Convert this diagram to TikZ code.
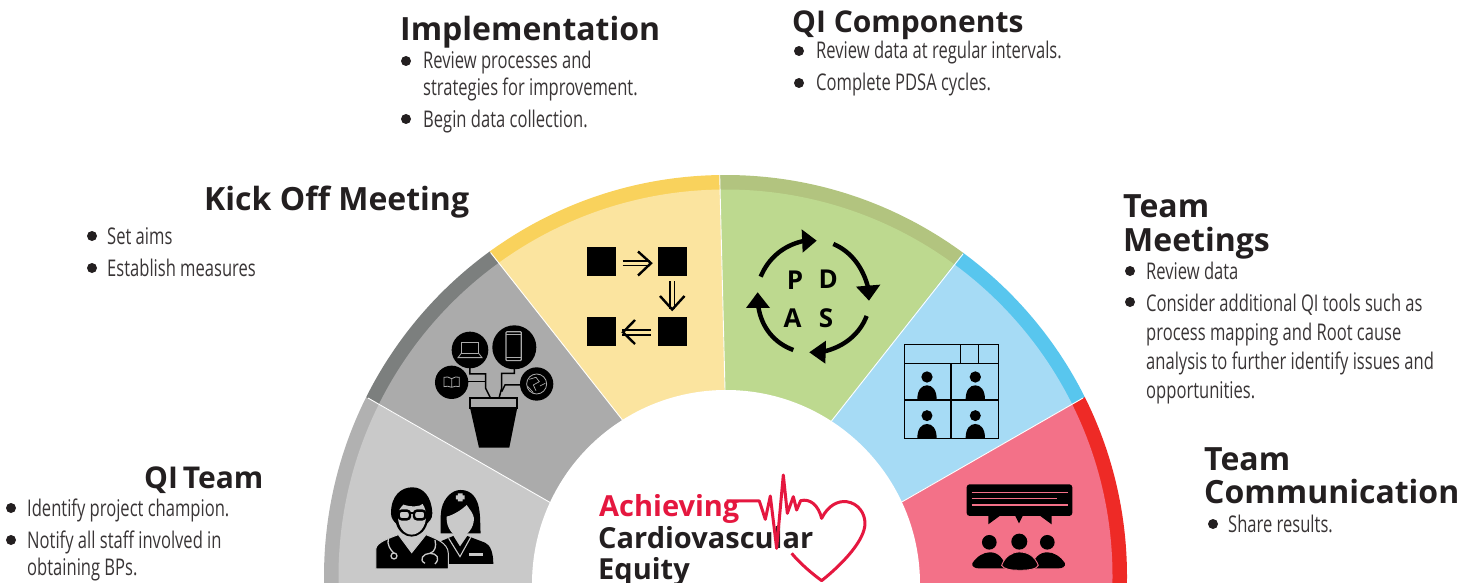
\documentclass[tikz,border=0pt]{standalone}
\usepackage{fontspec}
\setmainfont{Open Sans}
\newfontfamily\bodyf[FakeStretch=0.72]{Open Sans}
\definecolor{gA}{HTML}{C9C9C9}\definecolor{gAb}{HTML}{B1B1B1}
\definecolor{gB}{HTML}{ABABAB}\definecolor{gBb}{HTML}{7C7F7E}
\definecolor{yC}{HTML}{FBE49F}\definecolor{yCb}{HTML}{F9D25C}
\definecolor{gD}{HTML}{BDD98F}\definecolor{gDb}{HTML}{B2C47F}
\definecolor{bE}{HTML}{A6DBF5}\definecolor{bEb}{HTML}{58C6EE}
\definecolor{pF}{HTML}{F37188}\definecolor{pFb}{HTML}{EE2A26}
\definecolor{logored}{HTML}{E5173F}
\definecolor{ink}{HTML}{231F20}
\tikzset{
 titletext/.style={anchor=base west,inner sep=0pt,text=ink,font=\fontsize{32}{32}\selectfont\bfseries},
 qititle/.style={anchor=base west,inner sep=0pt,text=ink,font=\fontsize{30}{30}\selectfont\bfseries},
 bodytext/.style={anchor=base west,inner sep=0pt,text=ink!90,font=\bodyf\fontsize{23}{23}\selectfont},
 logotext/.style={anchor=base west,inner sep=0pt,font=\fontsize{29}{30}\selectfont\bfseries},
 pdsatext/.style={inner sep=0pt,text=black,font=\fontsize{26}{26}\selectfont\bfseries},
 bulletdot/.style={fill=ink,circle,inner sep=0pt,minimum size=10pt},
 zoomone/.style={shift={(320,170)},x=0.3333pt,y=-0.3333pt},
 zoomtwo/.style={shift={(720,170)},x=0.3333pt,y=-0.3333pt},
 zoomlogo/.style={shift={(580,460)},x=0.3333pt,y=-0.3333pt},
 cycarrow/.style={draw=black,line width=4.4pt},
 seam/.style={draw=white,line width=0.9pt},
}
\newcommand\fansector[3]{\begin{scope}\clip #1;\fill[#2] (725.5,576.5) circle (401.5);\fill[#3] (725.5,576.5) circle (387);\end{scope}}
\begin{document}
\begin{tikzpicture}[x=1pt,y=-1pt]
\useasboundingbox (0,0) rectangle (1475,583);
\clip (0,0) rectangle (1475,583);
% fan
\fansector{(551,503)--(331,377)--(250,377)--(250,600)--(551,600)--cycle}{gAb}{gA}
\fansector{(551,503)--(331,377)--(464,219)--(623,420.7)--cycle}{gBb}{gB}
\fansector{(623,420.7)--(464,219)--(718.7,132)--(725,390)--cycle}{yCb}{yC}
\fansector{(725,390)--(718.7,132)--(989,220)--(830.7,422)--cycle}{gDb}{gD}
\fansector{(830.7,422)--(989,220)--(1120,377)--(900,503)--cycle}{bEb}{bE}
\fansector{(900,503)--(1120,377)--(1200,377)--(1200,600)--(900,600)--cycle}{pFb}{pF}
\draw[seam] (551,503)--(368,398);
\draw[seam] (623,420.7)--(490.7,252.7);
\draw[seam] (725,390)--(719.7,175);
\draw[seam] (830.7,422)--(963,254);
\draw[seam] (900,503)--(1083,398);
\fill[white] (726,584) circle (194);
% flow icon
\fill[black] (587,247) rectangle (616,276);
\fill[black] (657.7,247) rectangle (686.7,276);
\fill[black] (587,317) rectangle (616,346);
\fill[black] (657.7,317) rectangle (686.7,346);
\begin{scope}[line width=1.9pt,black]
\draw (622.5,260.8)--(650,260.8) (622.5,265.5)--(650,265.5);
\draw[line width=2.4pt] (638,251.5)--(651,263.2)--(638,275.5);
\draw (669.8,281)--(669.8,309) (674.5,281)--(674.5,309);
\draw[line width=2.4pt] (660,296)--(672.2,309.5)--(684.5,296);
\draw (622,330)--(651,330) (622,334.7)--(651,334.7);
\draw[line width=2.4pt] (635,320)--(623,332.3)--(635,344);
\end{scope}
% plant icon
\begin{scope}[zoomone]
\draw[black,line width=1.5pt] (450,590)--(450,612)--(497,612)--(497,655)--(512,685);
\draw[black,line width=1.5pt] (440,635)--(497,635);
\draw[black,line width=1.5pt] (583,590)--(583,610)--(545,610)--(545,655)--(537,685);
\draw[black,line width=1.5pt] (605,645)--(555,645)--(545,665);
\fill[black] (450,540) circle (55);
\fill[black] (583,532) circle (66);
\fill[black] (395,637) circle (50);
\fill[black] (650,642) circle (50);
\draw[gB,line width=0.8pt] (424,516) rectangle (476,550);
\draw[gB,line width=0.8pt] (424,550)--(414,563)--(486,563)--(476,550);
\draw[gB,line width=1.2pt,rounded corners=1pt] (558,485) rectangle (604,572);
\draw[gB,line width=0.8pt] (558,492)--(604,492) (558,563)--(604,563);
\draw[gB,line width=0.8pt] (395,626)--(395,652) (395,626) .. controls (388,620) and (378,620) .. (372,622)--(372,650) .. controls (378,648) and (388,648) .. (395,652) .. controls (402,648) and (412,648) .. (418,650)--(418,622) .. controls (412,620) and (402,620) .. (395,626);
\draw[gB,line width=0.8pt] (650,642) circle (30);
\draw[gB,line width=0.7pt] (628,628)--(648,622)--(658,635)--(640,645)--(648,662) (660,648)--(676,640) (622,648)--(640,668);
\draw[black,line width=1.8pt,fill=gB] (451,685) rectangle (592,713);
\fill[black] (450,713)--(592,713)--(568,833)--(477,833)--cycle;
\end{scope}
% doctor and nurse
\begin{scope}[zoomone]
\fill[black] (362,1090) .. controls (362,1060) and (360,1040) .. (365,1015) .. controls (372,985) and (395,960) .. (422,960) .. controls (455,960) and (472,985) .. (477,1015) .. controls (482,1040) and (480,1065) .. (482,1090) --cycle;
\fill[gA] (380,1040) .. controls (400,1035) and (425,1020) .. (440,1005) .. controls (450,1020) and (460,1030) .. (462,1045) .. controls (462,1075) and (440,1100) .. (420,1100) .. controls (400,1100) and (378,1075) .. (380,1040) --cycle;
\fill[gA] (414,970) rectangle (428,994) (408,976) rectangle (434,988);
\fill[black] (360,1195)--(360,1115)--(400,1098) --(420,1130)--(442,1098)--(495,1118) .. controls (512,1125) and (520,1150) .. (520,1182)--(385,1182)--(385,1195)--cycle;
\draw[gA,line width=1.1pt] (386,1105)--(420,1160)--(452,1102);
\fill[gA] (448,1148) rectangle (490,1158);
\fill[black] (213,1030) .. controls (213,975) and (245,952) .. (277,952) .. controls (310,952) and (335,980) .. (337,1030) .. controls (337,1050) and (325,1055) .. (322,1060) .. controls (315,1085) and (295,1100) .. (275,1100) .. controls (255,1100) and (235,1085) .. (228,1060) .. controls (222,1055) and (213,1045) .. (213,1030) --cycle;
\fill[gA] (234,1040) .. controls (234,1022) and (240,1015) .. (250,1004) .. controls (275,1012) and (300,1010) .. (308,1002) .. controls (316,1015) and (318,1025) .. (318,1040) .. controls (318,1070) and (298,1094) .. (275,1094) .. controls (252,1094) and (234,1070) .. (234,1040) --cycle;
\draw[black,line width=2.4pt,rounded corners=3pt] (236,1022) rectangle (270,1048) (282,1022) rectangle (316,1048);
\draw[black,line width=1.8pt] (270,1030)--(282,1030) (228,1028)--(236,1028) (316,1028)--(325,1028);
\draw[gA,line width=1pt,fill=black] (168,1197)--(168,1135) .. controls (170,1118) and (205,1105) .. (235,1094)--(275,1148)--(318,1094) .. controls (345,1105) and (384,1118) .. (385,1150)--(385,1197)--cycle;
\draw[gA,line width=1.3pt] (205,1105) .. controls (200,1125) and (212,1140) .. (222,1150);
\draw[gA,line width=1.3pt] (222,1158) circle (9);
\draw[gA,line width=1.3pt] (345,1110) .. controls (350,1130) and (345,1145) .. (330,1150) .. controls (310,1150) and (295,1170) .. (315,1180) (330,1150) .. controls (350,1150) and (362,1165) .. (345,1182);
\end{scope}
% PDSA
\begin{scope}[zoomtwo]
\draw[cycarrow] (122,320) .. controls (145,265) and (190,225) .. (255,212);
\fill[black] (290,212)--(245,178)--(248,248)--cycle;
\draw[cycarrow] (340,222) .. controls (395,245) and (430,295) .. (445,355);
\fill[black] (447,392)--(408,350)--(481,344)--cycle;
\draw[cycarrow] (440,438) .. controls (420,490) and (375,530) .. (310,545);
\fill[black] (268,547)--(318,512)--(316,581)--cycle;
\draw[cycarrow] (220,540) .. controls (165,520) and (125,475) .. (115,410);
\fill[black] (113,367)--(78,414)--(150,414)--cycle;
\node[pdsatext] (p) at (225,330) {P};
\node[pdsatext] (d) at (325,328) {D};
\node[pdsatext] (a) at (218,445) {A};
\node[pdsatext] (s) at (318,445) {S};
\end{scope}
% video grid
\begin{scope}[zoomtwo]
\draw[black,line width=1.5pt] (553,524) rectangle (835,806);
\draw[black,line width=1.5pt] (553,580)--(835,580) (553,690)--(835,690) (693,580)--(693,806) (722,524)--(722,580) (775,524)--(775,580);
\fill[black] (621,621) circle (17) (766,621) circle (17) (621,737) circle (16.5) (766,737) circle (16.5);
\fill[black] (592,688) .. controls (592,660) and (605,646) .. (621,646) .. controls (637,646) and (650,660) .. (650,688) --cycle;
\fill[black] (737,688) .. controls (737,660) and (750,646) .. (766,646) .. controls (782,646) and (795,660) .. (795,688) --cycle;
\fill[black] (592,804) .. controls (592,776) and (605,762) .. (621,762) .. controls (637,762) and (650,776) .. (650,804) --cycle;
\fill[black] (737,804) .. controls (737,776) and (750,762) .. (766,762) .. controls (782,762) and (795,776) .. (795,804) --cycle;
\end{scope}
% speech icon
\begin{scope}[zoomtwo]
\fill[black,rounded corners=3pt] (740,943) rectangle (1057,1038);
\fill[black] (805,1030)--(805,1063)--(850,1030)--cycle (882,1030)--(897,1060)--(912,1030)--cycle (950,1030)--(995,1063)--(995,1030)--cycle;
\draw[pF,line width=1.2pt] (755,968)--(1043,968) (755,985)--(1010,985) (755,1005)--(1043,1005);
\fill[black] (808,1117) circle (22) (982,1117) circle (22);
\fill[black] (898,1115) circle (24);
\fill[black] (757,1180) .. controls (770,1160) and (790,1147) .. (810,1147) .. controls (835,1147) and (850,1165) .. (860,1195)--(775,1195) .. controls (765,1195) and (755,1190) .. (757,1180) --cycle;
\fill[black] (1035,1180) .. controls (1022,1160) and (1002,1147) .. (982,1147) .. controls (957,1147) and (942,1165) .. (932,1195)--(1017,1195) .. controls (1027,1195) and (1037,1190) .. (1035,1180) --cycle;
\draw[pF,line width=0.9pt,fill=black] (845,1186) .. controls (855,1160) and (875,1146) .. (898,1146) .. controls (925,1146) and (945,1160) .. (955,1186) .. controls (950,1198) and (925,1201) .. (898,1201) .. controls (875,1201) and (850,1198) .. (845,1186) --cycle;
\end{scope}
% logo
\node[logotext,text=logored] (achieving) at (599,516) {Achieving};
\node[logotext,text=ink] (cardio) at (598,548) {Cardiovascular};
\node[logotext,text=ink] (equity) at (598,579) {Equity};
\begin{scope}[zoomlogo]
\draw[logored,line width=3pt,line join=round] (440,123)--(538,123)--(556,178)--(571,108)--(590,265)--(610,45)--(622,160)--(640,110)--(650,150)--(662,122) .. controls (690,115) and (715,135) .. (725,175) .. controls (745,135) and (775,122) .. (800,125) .. controls (835,130) and (855,160) .. (855,190) .. controls (855,240) and (790,310) .. (725,362) .. controls (695,340) and (660,310) .. (635,280);
\end{scope}
% labels
\node[titletext] (t1) at (400,41) {Implementation};
\node[bulletdot] (b1a) at (406,61) {};
\node[bodytext] (x1a) at (423,69) {Review processes and};
\node[bodytext] (x1b) at (423,96) {strategies for improvement.};
\node[bulletdot] (b1b) at (406,119) {};
\node[bodytext] (x1c) at (423,128) {Begin data collection.};
\node[qititle] (t2) at (792,33) {QI Components};
\node[bulletdot] (b2a) at (799,51) {};
\node[bodytext] (x2a) at (816,59) {Review data at regular intervals.};
\node[bulletdot] (b2b) at (799,83) {};
\node[bodytext] (x2b) at (816,91) {Complete PDSA cycles.};
\node[titletext] (t3) at (204,210) {Kick Off Meeting};
\node[bulletdot] (b3a) at (92,236) {};
\node[bodytext] (x3a) at (107,244) {Set aims};
\node[bulletdot] (b3b) at (92,268) {};
\node[bodytext] (x3b) at (107,276) {Establish measures};
\node[titletext] (t4a) at (1123,217) {Team};
\node[titletext] (t4b) at (1123,251) {Meetings};
\node[bulletdot] (b4a) at (1130,271) {};
\node[bodytext] (x4a) at (1146,279) {Review data};
\node[bulletdot] (b4b) at (1130,302) {};
\node[bodytext] (x4b) at (1146,311) {Consider additional QI tools such as};
\node[bodytext] (x4c) at (1146,340) {process mapping and Root cause};
\node[bodytext] (x4d) at (1146,369) {analysis to further identify issues and};
\node[bodytext] (x4e) at (1146,398) {opportunities.};
\node[qititle] (t5) at (144,488) {QI\hspace{-3pt} Team};
\node[bulletdot] (b5a) at (11,508) {};
\node[bodytext] (x5a) at (27,516) {Identify project champion.};
\node[bulletdot] (b5b) at (11,540) {};
\node[bodytext] (x5b) at (27,548) {Notify all staff involved in};
\node[bodytext] (x5c) at (27,575) {obtaining BPs.};
\node[titletext] (t6a) at (1204,470) {Team};
\node[titletext] (t6b) at (1204,503) {Communication};
\node[bulletdot] (b6a) at (1213,524) {};
\node[bodytext] (x6a) at (1228,532) {Share results.};
\end{tikzpicture}
\end{document}
